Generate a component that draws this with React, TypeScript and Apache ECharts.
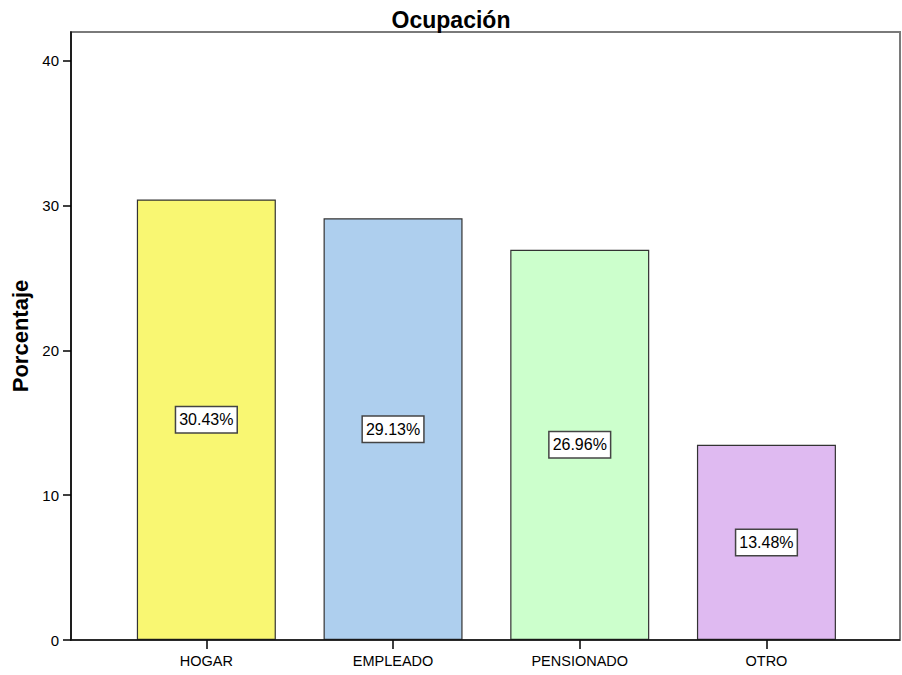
import React, { useEffect, useRef } from "react";
import * as echarts from "echarts";

const categories = ["HOGAR", "EMPLEADO", "PENSIONADO", "OTRO"];
const values = [30.43, 29.13, 26.96, 13.48];
const colors = ["#f9f772", "#aecfee", "#ccffcc", "#dfbaf1"];
const yTicks = [0, 10, 20, 30, 40];

export default function App() {
  const ref = useRef<HTMLDivElement>(null);
  useEffect(() => {
    document.body.style.margin = "0";
    const chart = echarts.init(ref.current!, null, { renderer: "svg" });
    const font = "Liberation Sans, Arial, sans-serif";
    chart.setOption({
      animation: false,
      backgroundColor: "#ffffff",
      title: {
        text: "Ocupación",
        left: "center",
        top: 3,
        textStyle: { fontFamily: font, fontSize: 23, fontWeight: "bold", color: "#000" },
      },
      grid: { left: 113, top: 32, width: 746.8, height: 608 },
      xAxis: {
        type: "category",
        data: categories,
        axisLine: { show: false },
        axisTick: { show: true, alignWithLabel: true, length: 9, lineStyle: { color: "#000", width: 1.5 } },
        axisLabel: { fontFamily: font, fontSize: 14.5, color: "#000", margin: 13 },
      },
      yAxis: {
        type: "value",
        min: 0,
        max: 42,
        interval: 10,
        offset: 42,
        name: "Porcentaje",
        nameLocation: "middle",
        nameGap: 38,
        nameTextStyle: { fontFamily: font, fontSize: 22, fontWeight: "bold", color: "#000" },
        splitLine: { show: false },
        axisLine: { show: true, lineStyle: { color: "#000", width: 1.5 } },
        axisTick: { show: true, length: 8, customValues: yTicks, lineStyle: { color: "#000", width: 1.5 } },
        axisLabel: { fontFamily: font, fontSize: 15, color: "#000", margin: 12, customValues: yTicks },
      },
      graphic: [
        {
          type: "rect",
          z: -1,
          shape: { x: 71, y: 32, width: 829, height: 608 },
          style: { fill: "none", stroke: "#7a7a7a", lineWidth: 2 },
        },
        {
          type: "line",
          z: 10,
          shape: { x1: 71, y1: 640, x2: 900, y2: 640 },
          style: { stroke: "#111", lineWidth: 1.5 },
        },
      ],
      series: [
        {
          type: "bar",
          barWidth: 139,
          data: values.map((v, i) => ({
            value: v,
            itemStyle: { color: colors[i], borderColor: "#333", borderWidth: 1.2 },
          })),
          label: {
            show: true,
            position: "inside",
            formatter: (p: any) => p.value.toFixed(2) + "%",
            fontFamily: font,
            fontSize: 16,
            color: "#000",
            backgroundColor: "#fff",
            borderColor: "#444",
            borderWidth: 1.5,
            padding: [5, 3, 4, 3],
          },
        },
      ],
    });
    return () => chart.dispose();
  }, []);
  return <div ref={ref} style={{ width: 902, height: 675 }} />;
}
